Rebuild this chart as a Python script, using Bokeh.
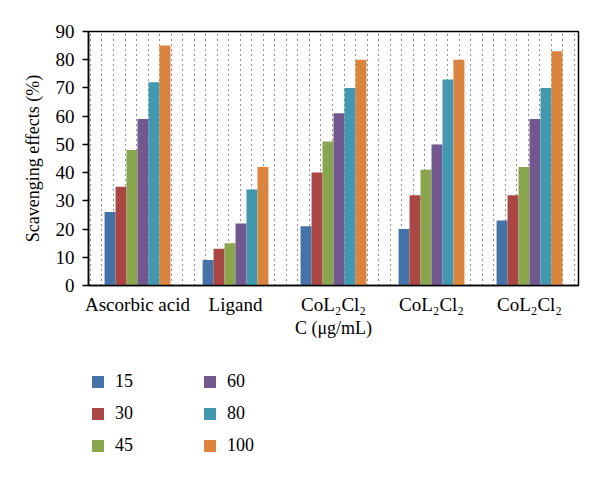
from bokeh.plotting import figure
from bokeh.layouts import column
from bokeh.models import (ColumnDataSource, FixedTicker, Range1d, Legend, LegendItem)
from bokeh.embed import file_html
from bokeh.resources import INLINE

categories = ["Ascorbic acid", "Ligand", "CoL\u2082Cl\u2082", "CoL\u2082Cl\u2082", "CoL\u2082Cl\u2082"]
series_names = ["15", "30", "45", "60", "80", "100"]
s15 = [26, 9, 21, 20, 23]
s30 = [35, 13, 40, 32, 32]
s45 = [48, 15, 51, 41, 42]
s60 = [59, 22, 61, 50, 59]
s80 = [72, 34, 70, 73, 70]
s100 = [85, 42, 80, 80, 83]
series_values = [s15, s30, s45, s60, s80, s100]
colors = ["#4572A7", "#AA4643", "#89A54E", "#71588F", "#4198AF", "#DB843D"]
y_ticks = [0, 10, 20, 30, 40, 50, 60, 70, 80, 90]

FONT = "Liberation Serif"

p = figure(width=600, height=350, output_backend="svg", toolbar_location=None,
           x_range=Range1d(0, len(categories)), y_range=Range1d(0, 90),
           min_border_left=88, min_border_right=22, min_border_top=31, min_border_bottom=65)

bar_w = 0.112
n = len(series_names)
sources = []
for i, (name, vals, col) in enumerate(zip(series_names, series_values, colors)):
    xs = [k + 0.5 + (i - (n - 1) / 2) * bar_w for k in range(len(categories))]
    src = ColumnDataSource(dict(x=xs, top=vals))
    sources.append(src)
    p.vbar(x="x", top="top", bottom=0, width=bar_w, source=src,
           fill_color=col, line_color=None)

# axes
p.xaxis.ticker = FixedTicker(ticks=[k + 0.5 for k in range(len(categories))])
p.xaxis.major_label_overrides = {k + 0.5: c for k, c in enumerate(categories)}
p.xaxis.minor_tick_line_color = None
p.xaxis.axis_label = "C (\u03bcg/mL)"
p.yaxis.axis_label = "Scavenging effects (%)"
p.yaxis.ticker = FixedTicker(ticks=y_ticks)
p.yaxis.minor_tick_line_color = None
p.yaxis.major_tick_in = 0
p.yaxis.major_tick_out = 6
for ax in (p.xaxis, p.yaxis):
    ax.axis_line_color = "black"
    ax.axis_line_width = 1.5
    ax.major_label_text_font = FONT
    ax.major_label_text_font_size = "19px"
    ax.major_label_text_color = "black"
    ax.axis_label_text_font = FONT
    ax.axis_label_text_font_size = "18px"
    ax.axis_label_text_font_style = "normal"
    ax.axis_label_text_color = "black"
p.yaxis.major_tick_line_color = "black"
p.yaxis.major_tick_line_width = 1.5
p.xaxis.major_tick_line_color = None
p.xaxis.major_tick_out = 0
p.xaxis.major_tick_in = 0
p.xaxis.major_label_standoff = 8
p.xaxis.axis_label_standoff = 0
p.yaxis.major_label_standoff = 8
p.yaxis.axis_label_standoff = 10

# dotted vertical grid
grid_step = 0.1176
p.xgrid.ticker = FixedTicker(ticks=[0.02 + k * grid_step for k in range(43)])
p.xgrid.grid_line_color = "#222222"
p.xgrid.grid_line_dash = "1 4"
p.xgrid.grid_line_width = 1
p.ygrid.grid_line_color = None

p.outline_line_color = "black"
p.outline_line_width = 1.5
p.background_fill_color = "white"
p.border_fill_color = "white"

# legend panel (hidden helper renderers, legend only)
lg = figure(width=600, height=127, output_backend="svg", toolbar_location=None,
            x_axis_location=None, y_axis_location=None,
            x_range=Range1d(0, len(categories)), y_range=Range1d(0, 90),
            min_border_left=88, min_border_right=22, min_border_top=0, min_border_bottom=0)
lg.grid.grid_line_color = None
lg.outline_line_color = None
items = []
for name, col, src in zip(series_names, colors, sources):
    r = lg.vbar(x="x", top="top", width=bar_w, source=src,
                fill_color=col, line_color=None, visible=False)
    items.append(LegendItem(label=name, renderers=[r]))
legend = Legend(items=items, ncols=2, location=(2, 21),
                glyph_width=15, glyph_height=15, label_standoff=10,
                label_width=76, label_height=20, spacing=11,
                label_text_font=FONT, label_text_font_size="18px",
                label_text_color="black",
                inactive_fill_alpha=0,
                border_line_color=None, background_fill_alpha=0,
                padding=0, margin=0)
lg.add_layout(legend, "center")

layout = column(p, lg, spacing=0)
open("out.html", "w").write(file_html(layout, INLINE))
